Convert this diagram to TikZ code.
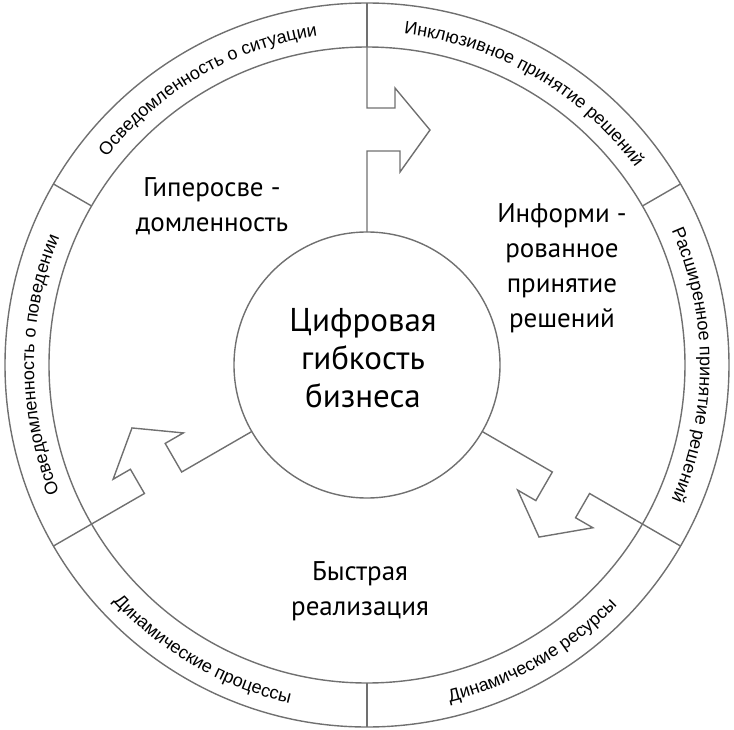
\documentclass[tikz,border=0pt]{standalone}
\usepackage{fontspec}
\setmainfont{PT Sans}
\newfontfamily\ringfnt{Liberation Sans}
\usetikzlibrary{decorations.text}
\definecolor{ln}{HTML}{707070}
\begin{document}
\begin{tikzpicture}[x=1pt,y=1pt,line width=1.4pt,
  lnst/.style={draw=ln},
  lbl/.style={align=center,font=\fontsize{27}{35}\selectfont},
  ringtxt/.style={decorate,decoration={text along path,text align=center,
     text={|\ringfnt\fontsize{18}{20}\selectfont|#1}}}]
\useasboundingbox (-367,-364) rectangle (367,365);
\draw[lnst] (0,0) circle (362);
\draw[lnst] (0,0) circle (318);
\node[lnst,circle,minimum size=266pt,inner sep=0pt] (core) at (0,0) {};
\node[lbl,font=\fontsize{33}{38}\selectfont] (ct) at (-4,7) {Цифровая\\гибкость\\бизнеса};
\foreach \a in {90,150,210,270,330,30}
  \draw[lnst] (\a:318) -- (\a:362);
\foreach \r in {0,120,240}
  \draw[lnst,rotate=\r,line join=miter] (0,318) -- (0,257) -- (28,257) -- (28,277) -- (63,235) -- (33,193) -- (33,214) -- (0,214) -- (0,133);
\node[lbl] (l1) at (-155,159) {Гиперосве -\\домленность};
\node[lbl] (l2) at (195,97) {Информи -\\рованное\\принятие\\решений};
\node[lbl] (l3) at (-7,-226) {Быстрая\\реализация};
\path[ringtxt={Осведомленность о ситуации}] (150:333) arc (150:90:333);
\path[ringtxt={Инклюзивное принятие решений}] (90:333) arc (90:30:333);
\path[ringtxt={Расширенное принятие решений}] (30:333) arc (30:-30:333);
\path[ringtxt={Осведомленность о поведении}] (210:333) arc (210:150:333);
\path[ringtxt={Динамические процессы}] (210:347) arc (210:270:347);
\path[ringtxt={Динамические ресурсы}] (270:347) arc (270:330:347);
\end{tikzpicture}
\end{document}
